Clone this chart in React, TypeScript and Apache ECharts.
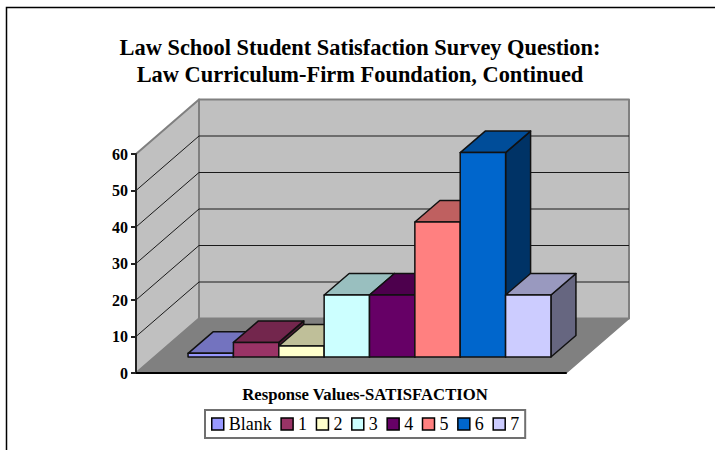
import React, { useEffect, useRef } from "react";
import * as echarts from "echarts";

const titleLines = ["Law School Student Satisfaction Survey Question:", "Law Curriculum-Firm Foundation, Continued"];
const axisName = "Response Values-SATISFACTION";
const categories = ["Blank", "1", "2", "3", "4", "5", "6", "7"];
const values = [1, 4, 3, 17, 17, 37, 56, 17];
const colors = ["#9999FF", "#993366", "#FFFFCC", "#CCFFFF", "#660066", "#FF8080", "#0066CC", "#CCCCFF"];
const topColors = ["#7373BF", "#73264D", "#BFBF99", "#99BFBF", "#4D004D", "#BF6060", "#004D99", "#9999BF"];
const sideColors = ["#4D4D80", "#4D1A33", "#808066", "#668080", "#330033", "#804040", "#003366", "#666680"];
const yTicks = [0, 10, 20, 30, 40, 50, 60];

const FONT = "'Liberation Serif', 'Times New Roman', serif";
const X_MIN = -1.24;
const X_MAX = 8.24;
const Y_MAX = 60;
const WALL_DX = 63;
const WALL_DY = -54.5;
const BAR_SHIFT_X = 18.5;
const BAR_SHIFT_Y = -16;
const BAR_DX = 25;
const BAR_DY = -21.5;

const poly = (points: number[][], fill: string, stroke: string, lineWidth: number) => ({
  type: "polygon",
  shape: { points },
  style: { fill, stroke, lineWidth, lineJoin: "round" },
});
const seg = (a: number[], b: number[], stroke: string, lineWidth: number) => ({
  type: "line",
  shape: { x1: a[0], y1: a[1], x2: b[0], y2: b[1] },
  style: { stroke, lineWidth },
});

const renderWalls = (_: any, api: any) => {
  const fl = api.coord([X_MIN, 0]);
  const fr = api.coord([X_MAX, 0]);
  const tl = api.coord([X_MIN, Y_MAX]);
  const back = (p: number[]) => [p[0] + WALL_DX, p[1] + WALL_DY];
  const children: any[] = [
    poly([fl, fr, back(fr), back(fl)], "#808080", "#808080", 1.5),
    poly([back(fl), back(fr), back([fr[0], tl[1]]), back(tl)], "#C0C0C0", "#808080", 2),
    poly([fl, back(fl), back(tl), tl], "#C0C0C0", "#808080", 2),
  ];
  yTicks.slice(1, -1).forEach((t) => {
    const a = api.coord([X_MIN, t]);
    const b = back(a);
    const c = [back(fr)[0], b[1]];
    children.push(seg(a, b, "#1a1a1a", 1), seg(b, c, "#1a1a1a", 1));
  });
  return { type: "group", children };
};

const renderBar = (idx: number) => (_: any, api: any) => {
  const i = api.value(0);
  const v = api.value(1);
  const shift = (p: number[]) => [p[0] + BAR_SHIFT_X, p[1] + BAR_SHIFT_Y];
  const deep = (p: number[]) => [p[0] + BAR_DX, p[1] + BAR_DY];
  const bl = shift(api.coord([i - 0.5, 0]));
  const br = shift(api.coord([i + 0.5, 0]));
  const tl = shift(api.coord([i - 0.5, v]));
  const tr = shift(api.coord([i + 0.5, v]));
  const line = "#111111";
  return {
    type: "group",
    children: [
      poly([br, deep(br), deep(tr), tr], sideColors[idx], line, 1.5),
      poly([tl, tr, deep(tr), deep(tl)], topColors[idx], line, 1.5),
      poly([bl, br, tr, tl], colors[idx], line, 1.5),
    ],
  };
};

export default function App() {
  const ref = useRef<HTMLDivElement>(null);
  useEffect(() => {
    const chart = echarts.init(ref.current!, undefined, { renderer: "svg" });
    chart.setOption({
      animation: false,
      backgroundColor: "#fff",
      textStyle: { fontFamily: FONT },
      title: {
        text: titleLines.join("\n"),
        left: 355,
        top: 29,
        textAlign: "center",
        textStyle: { fontFamily: FONT, fontSize: 22.4, fontWeight: "bold", color: "#000", lineHeight: 27 },
      },
      grid: { left: 136, top: 154, width: 430, height: 219, containLabel: false },
      xAxis: {
        type: "value",
        min: X_MIN,
        max: X_MAX,
        z: 10,
        name: axisName,
        nameLocation: "middle",
        nameGap: 13,
        nameTextStyle: { fontFamily: FONT, fontSize: 16.7, fontWeight: "bold", color: "#000", padding: [0, 0, 0, 28] },
        axisLine: { show: true, onZero: false, lineStyle: { color: "#000", width: 2 } },
        axisTick: { show: false },
        axisLabel: { show: false },
        splitLine: { show: false },
      },
      yAxis: {
        type: "value",
        min: 0,
        max: Y_MAX,
        interval: 10,
        z: 10,
        axisLine: { show: true, onZero: false, lineStyle: { color: "#222", width: 2 } },
        axisTick: { show: true, length: 5, lineStyle: { color: "#222", width: 2 } },
        axisLabel: { fontFamily: FONT, fontSize: 16, fontWeight: "bold", color: "#000", margin: 8 },
        splitLine: { show: false },
      },
      legend: {
        data: categories,
        left: 205,
        top: 410,
        orient: "horizontal",
        itemWidth: 12,
        itemHeight: 12,
        itemGap: 8.6,
        icon: "rect",
        padding: [5, 6, 5, 6],
        borderColor: "#707070",
        borderWidth: 2,
        backgroundColor: "#fff",
        selectedMode: false,
        itemStyle: { borderColor: "#000", borderWidth: 1.5 },
        textStyle: { fontFamily: FONT, fontSize: 18, color: "#000", padding: [0, 0, 0, 0] },
      },
      graphic: [
        {
          type: "polyline",
          silent: true,
          shape: { points: [[6.5, 450], [6.5, 7.5], [715, 7.5]] },
          style: { stroke: "#000", lineWidth: 1.5, fill: "none" },
        },
      ],
      series: [
        {
          name: "walls",
          type: "custom",
          silent: true,
          z: 1,
          clip: false,
          renderItem: renderWalls,
          data: [[0, 0]],
        },
        ...categories.map((name, idx) => ({
          name,
          type: "custom",
          z: 2 + idx,
          clip: false,
          renderItem: renderBar(idx),
          itemStyle: { color: colors[idx] },
          encode: { x: 0, y: 1 },
          data: [[idx, values[idx]]],
        })),
      ],
    });
    return () => chart.dispose();
  }, []);
  return <div ref={ref} style={{ position: "absolute", left: 0, top: 0, width: 715, height: 450 }} />;
}
